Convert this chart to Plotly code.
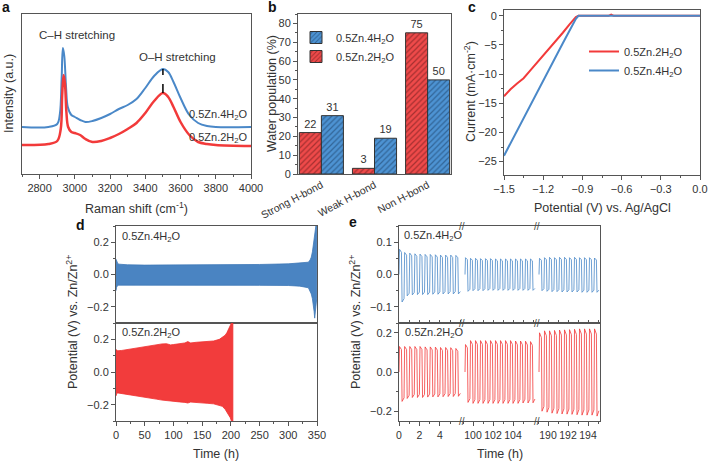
import plotly.graph_objects as go

W, H = 709, 463
def fx(p): return p / W
def fy(p): return 1 - p / H

FONT = "Arial, 'Liberation Sans', sans-serif"
AX = "#555555"
TXT = "#333333"
RED = "#f23a3a"
BLUE = "#4a88c8"

# ---------------- Panel a: Raman ----------------
raman_x_4 = [2700, 2850, 2900, 2915, 2925, 2932, 2940, 2950, 2960, 2980, 3000, 3030, 3060, 3100, 3150,
             3200, 3250, 3300, 3350, 3400, 3450, 3500, 3530, 3560, 3600, 3650, 3700, 3750, 3800, 4000]
raman_y_4 = [47, 47, 50, 60, 95, 126, 118, 87, 67, 59, 57, 54, 52, 53, 56,
             60, 65, 69, 75, 86, 98, 105, 102, 92, 76, 59, 51, 48, 47, 47]
raman_x_2 = [2700, 2850, 2900, 2920, 2928, 2936, 2944, 2952, 2962, 2980, 3000, 3030, 3060, 3100, 3150,
             3200, 3250, 3300, 3350, 3400, 3450, 3500, 3530, 3560, 3600, 3650, 3700, 3750, 3800, 4000]
raman_y_2 = [29, 30, 33, 45, 78, 99, 90, 62, 47, 42, 41, 39, 35, 32, 33,
             36, 40, 45, 51, 61, 73, 81, 77, 67, 52, 39, 32, 30, 29, 28]
oh_peak_x = 3500

# ---------------- Panel b: water population ----------------
categories = ["Strong H-bond", "Weak H-bond", "Non H-bond"]
pop_2 = [22, 3, 75]
pop_4 = [31, 19, 50]

# ---------------- Panel c: LSV ----------------
lsv_v_2 = [-1.5, -1.45, -1.4, -1.35, -1.3, -1.25, -1.2, -1.15, -1.1, -1.05, -1.0, -0.97, -0.95,
           -0.93, -0.9, -0.7, -0.68, -0.66, -0.5, -0.3, 0.0]
lsv_i_2 = [-13.8, -12.6, -11.6, -10.7, -9.4, -8.1, -6.9, -5.6, -4.3, -2.9, -1.5, -0.7, -0.2,
           0, 0, 0, 0.2, 0, 0, 0, 0]
lsv_v_4 = [-1.5, -1.35, -1.2, -1.05, -0.95, -0.93, -0.9, -0.5, 0.0]
lsv_i_4 = [-24.0, -17.5, -11.1, -4.7, -0.5, 0, 0, 0, 0]

# ---------------- Panel d: long-term cycling envelopes ----------------
d4_t = [0, 1, 3, 5, 20, 50, 100, 150, 200, 250, 300, 320, 335, 338, 340, 342, 343, 345, 346, 347, 348, 349.5]
d4_up = [0.095, 0.08, 0.068, 0.064, 0.06, 0.058, 0.058, 0.058, 0.06, 0.062, 0.066, 0.07, 0.076, 0.09, 0.107,
         0.14, 0.17, 0.23, 0.27, 0.3, 0.3, 0.3]
d4_lo = [-0.1, -0.08, -0.066, -0.062, -0.063, -0.064, -0.065, -0.066, -0.066, -0.067, -0.068, -0.072, -0.082,
         -0.1, -0.12, -0.15, -0.17, -0.23, -0.27, -0.27, -0.2, -0.15]

d2_t = [0, 1, 3, 10, 20, 30, 40, 50, 60, 70, 80, 88, 95, 100, 110, 120, 125, 130, 140, 150, 160, 170,
        180, 185, 190, 193, 196, 199, 201, 202.5, 203.5]
d2_up = [0.137, 0.133, 0.13, 0.132, 0.138, 0.143, 0.148, 0.153, 0.158, 0.165, 0.172, 0.173, 0.166, 0.168,
         0.174, 0.178, 0.186, 0.178, 0.182, 0.185, 0.188, 0.19, 0.2, 0.21, 0.225, 0.24, 0.26, 0.28, 0.3, 0.3, 0.3]
d2_lo = [-0.147, -0.135, -0.128, -0.132, -0.137, -0.142, -0.148, -0.153, -0.16, -0.166, -0.172, -0.175,
         -0.178, -0.18, -0.183, -0.186, -0.19, -0.184, -0.188, -0.19, -0.192, -0.195, -0.205, -0.21, -0.228,
         -0.245, -0.26, -0.28, -0.3, -0.3, -0.3]

# ---------------- Panel e: zoomed cycles (per-cycle peak values) ----------------
e_seg_ranges = [[0, 6.15], [98.9, 106.4], [188.9, 195.2]]
e_seg_start = [0.0, 99.2, 189.1]
e_seg_ticks = [[0, 2, 4], [100, 102, 104], [190, 192, 194]]
e_seg_minor = [[1, 3, 5], [99, 101, 103, 105], [189, 191, 193, 195]]
e_period = 0.5

e4_high = [
    [0.078, 0.068, 0.066, 0.064, 0.063, 0.062, 0.062, 0.061, 0.060, 0.060, 0.060, 0.059],
    [0.052, 0.050, 0.050, 0.049, 0.049, 0.049, 0.048, 0.048, 0.048, 0.048, 0.048, 0.048, 0.048, 0.048],
    [0.050, 0.052, 0.053, 0.052, 0.053, 0.053, 0.052, 0.053, 0.052, 0.052, 0.052, 0.051],
]
e4_low = [
    [-0.085, -0.066, -0.063, -0.062, -0.062, -0.062, -0.061, -0.061, -0.060, -0.060, -0.060, -0.060],
    [-0.052, -0.050, -0.050, -0.050, -0.049, -0.049, -0.049, -0.049, -0.049, -0.049, -0.049, -0.049, -0.049, -0.049],
    [-0.050, -0.052, -0.053, -0.053, -0.054, -0.054, -0.054, -0.054, -0.055, -0.055, -0.055, -0.055],
]
e2_high = [
    [0.130, 0.130, 0.130, 0.130, 0.130, 0.128, 0.128, 0.127, 0.125, 0.125, 0.124, 0.120],
    [0.140, 0.160, 0.160, 0.160, 0.160, 0.160, 0.160, 0.160, 0.160, 0.160, 0.158, 0.158, 0.157, 0.155],
    [0.200, 0.210, 0.210, 0.212, 0.214, 0.215, 0.216, 0.218, 0.220, 0.220, 0.220, 0.220],
]
e2_low = [
    [-0.150, -0.135, -0.130, -0.130, -0.130, -0.128, -0.127, -0.127, -0.126, -0.125, -0.125, -0.124],
    [-0.155, -0.160, -0.160, -0.160, -0.160, -0.160, -0.160, -0.160, -0.160, -0.160, -0.160, -0.158, -0.158, -0.157],
    [-0.200, -0.205, -0.210, -0.212, -0.214, -0.215, -0.216, -0.218, -0.220, -0.220, -0.220, -0.225],
]

LBL4 = "0.5Zn.4H<sub>2</sub>O"
LBL2 = "0.5Zn.2H<sub>2</sub>O"

fig = go.Figure()

# Panel a traces
fig.add_trace(go.Scatter(x=raman_x_4, y=raman_y_4, mode="lines", line=dict(color=BLUE, width=2, shape="spline"),
                         showlegend=False, xaxis="x", yaxis="y"))
fig.add_trace(go.Scatter(x=raman_x_2, y=raman_y_2, mode="lines", line=dict(color=RED, width=2.5, shape="spline"),
                         showlegend=False, xaxis="x", yaxis="y"))
fig.add_trace(go.Scatter(x=[oh_peak_x, oh_peak_x],
                         y=[raman_y_2[raman_x_2.index(oh_peak_x)], raman_y_4[raman_x_4.index(oh_peak_x)]],
                         mode="lines", line=dict(color="black", width=1.5, dash="dash"),
                         showlegend=False, xaxis="x", yaxis="y"))

# Panel b traces
fig.add_trace(go.Bar(x=categories, y=pop_2, name=LBL2, text=pop_2, textposition="outside",
                     textfont=dict(size=11, color=TXT), cliponaxis=False,
                     marker=dict(color="#ef4a4a", line=dict(color="#333", width=1),
                                 pattern=dict(shape="/", fgcolor="#5a1515", size=4, solidity=0.3)),
                     xaxis="x2", yaxis="y2", legend="legend"))
fig.add_trace(go.Bar(x=categories, y=pop_4, name=LBL4, text=pop_4, textposition="outside",
                     textfont=dict(size=11, color=TXT), cliponaxis=False,
                     marker=dict(color="#4d93d3", line=dict(color="#333", width=1),
                                 pattern=dict(shape="/", fgcolor="#17375c", size=4, solidity=0.3)),
                     xaxis="x2", yaxis="y2", legend="legend"))

# Panel c traces
fig.add_trace(go.Scatter(x=lsv_v_2, y=lsv_i_2, mode="lines", name=LBL2, line=dict(color=RED, width=2),
                         xaxis="x3", yaxis="y3", legend="legend2"))
fig.add_trace(go.Scatter(x=lsv_v_4, y=lsv_i_4, mode="lines", name=LBL4, line=dict(color=BLUE, width=2),
                         xaxis="x3", yaxis="y3", legend="legend2"))

# Panel d traces (filled envelopes)
fig.add_trace(go.Scatter(x=d4_t + d4_t[::-1], y=d4_up + d4_lo[::-1], mode="lines", fill="toself",
                         fillcolor="#4a84c2", line=dict(color="#3f78b8", width=0.8),
                         showlegend=False, xaxis="x4", yaxis="y4"))
fig.add_trace(go.Scatter(x=d2_t + d2_t[::-1], y=d2_up + d2_lo[::-1], mode="lines", fill="toself",
                         fillcolor="#f23c3c", line=dict(color="#f03030", width=0.8),
                         showlegend=False, xaxis="x5", yaxis="y5"))

# Panel e traces
def wave(t0, highs, lows):
    xs, ys = [], []
    for i, (h, l) in enumerate(zip(highs, lows)):
        t = t0 + i * e_period
        xs += [t, t + 0.05, t + 0.24, t + 0.30, t + 0.49]
        ys += [0.0, h, 0.88 * h, l, 0.88 * l]
    return xs, ys

for k in range(3):
    xs, ys = wave(e_seg_start[k], e4_high[k], e4_low[k])
    fig.add_trace(go.Scatter(x=xs, y=ys, mode="lines", line=dict(color="rgba(74,136,200,0.8)", width=1),
                             showlegend=False, xaxis=f"x{6+k}", yaxis=f"y{6+k}"))
    xs, ys = wave(e_seg_start[k], e2_high[k], e2_low[k])
    fig.add_trace(go.Scatter(x=xs, y=ys, mode="lines", line=dict(color="rgba(242,58,58,0.8)", width=1),
                             showlegend=False, xaxis=f"x{9+k}", yaxis=f"y{9+k}"))

# ---------------- Axes ----------------
def ax(**kw):
    base = dict(showline=True, linecolor=AX, linewidth=1, mirror=True, ticks="outside", ticklen=4,
                tickcolor=AX, tickfont=dict(size=11, color=TXT, family=FONT), showgrid=False, zeroline=False,
                automargin=False)
    base.update(kw)
    return base

def minor(dt=None, vals=None, ticks="outside"):
    m = dict(ticks=ticks, ticklen=2, tickcolor=AX, showgrid=False)
    if dt is not None:
        m["dtick"] = dt
    if vals is not None:
        m["tickmode"] = "array"
        m["tickvals"] = vals
    return m

lay = dict(
    xaxis=ax(domain=[fx(22), fx(251)], range=[2700, 4000], dtick=200, minor=minor(100), anchor="y"),
    yaxis=ax(domain=[fy(174), fy(14)], range=[0, 160], showticklabels=False, ticks="", anchor="x"),
    xaxis2=ax(domain=[fx(298), fx(451)], type="category", range=[-0.44, 2.44], tickangle=-28, ticks="",
              tickfont=dict(size=10.5, color=TXT, family=FONT), anchor="y2"),
    yaxis2=ax(domain=[fy(174), fy(14)], range=[0, 85], dtick=10, minor=minor(5), anchor="x2"),
    xaxis3=ax(domain=[fx(504), fx(700)], range=[-1.5, 0], dtick=0.3, tickformat=".1f", minor=minor(0.15),
              anchor="y3"),
    yaxis3=ax(domain=[fy(175), fy(10)], range=[-27.3, 1.0], dtick=5, minor=minor(2.5), anchor="x3"),
    xaxis4=ax(domain=[fx(116), fx(317)], range=[0, 350], showticklabels=False, ticks="", anchor="y4"),
    yaxis4=ax(domain=[fy(323), fy(226)], range=[-0.3, 0.3], dtick=0.2, tickformat=".1f", minor=minor(0.1),
              anchor="x4"),
    xaxis5=ax(domain=[fx(116), fx(317)], range=[0, 350], dtick=50, minor=minor(25), anchor="y5"),
    yaxis5=ax(domain=[fy(421), fy(323)], range=[-0.3, 0.3], dtick=0.2, tickformat=".1f", minor=minor(0.1),
              anchor="x5"),
)

seg_px = [(399, 462), (462, 537), (537, 600)]
for k in range(3):
    dom = [fx(seg_px[k][0]), fx(seg_px[k][1])]
    lay[f"xaxis{6+k}"] = ax(domain=dom, range=e_seg_ranges[k], showticklabels=False, ticks="inside", ticklen=3,
                            tickmode="array", tickvals=list(range(int(e_seg_ranges[k][0]) + 1,
                                                                  int(e_seg_ranges[k][1]) + 1)),
                            anchor=f"y{6+k}")
    lay[f"xaxis{9+k}"] = ax(domain=dom, range=e_seg_ranges[k], tickmode="array", tickvals=e_seg_ticks[k],
                            tickangle=0, tickfont=dict(size=10.5, color=TXT, family=FONT),
                            minor=minor(vals=e_seg_minor[k]), anchor=f"y{9+k}")
    ycfg_u = dict(domain=[fy(323), fy(226)], range=[-0.15, 0.15], dtick=0.1, tickformat=".1f",
                  anchor=f"x{6+k}")
    ycfg_l = dict(domain=[fy(421), fy(323)], range=[-0.25, 0.25], dtick=0.2, tickformat=".1f",
                  anchor=f"x{9+k}")
    if k == 0:
        lay[f"yaxis{6+k}"] = ax(mirror=False, minor=minor(0.05), **ycfg_u)
        lay[f"yaxis{9+k}"] = ax(mirror=False, minor=minor(0.1), **ycfg_l)
    elif k == 1:
        lay[f"yaxis{6+k}"] = ax(mirror=False, showline=False, ticks="", showticklabels=False, **ycfg_u)
        lay[f"yaxis{9+k}"] = ax(mirror=False, showline=False, ticks="", showticklabels=False, **ycfg_l)
    else:
        lay[f"yaxis{6+k}"] = ax(mirror=False, side="right", ticks="", showticklabels=False, **ycfg_u)
        lay[f"yaxis{9+k}"] = ax(mirror=False, side="right", ticks="", showticklabels=False, **ycfg_l)

# ---------------- Annotations ----------------
ann = []
def text(x, y, s, size=11, xanchor="center", yanchor="middle", angle=0, bold=False, color=TXT):
    ann.append(dict(x=fx(x), y=fy(y), xref="paper", yref="paper", text=(f"<b>{s}</b>" if bold else s),
                    showarrow=False, xanchor=xanchor, yanchor=yanchor, textangle=angle,
                    font=dict(size=size, color=color, family=FONT)))

for s, x, y in [("a", 6, 7), ("b", 272, 7), ("c", 472, 7), ("d", 80, 225), ("e", 353, 222)]:
    text(x, y, s, size=14, bold=True, color="#111")

text(77, 35, "C–H stretching", size=11.5)
text(177, 57, "O–H stretching", size=11.5)
text(250, 115, LBL4, size=11, xanchor="right")
text(250, 138, LBL2, size=11, xanchor="right")
text(136, 208, "Raman shift (cm<sup>-1</sup>)", size=12.5)
text(9, 94, "Intensity (a.u.)", size=12.5, angle=-90)
text(272, 94, "Water population (%)", size=12.5, angle=-90)
text(470, 92, "Current (mA·cm<sup>-2</sup>)", size=12.5, angle=-90)
text(602, 208, "Potential (V) vs. Ag/AgCl", size=12.5)

text(120, 237, LBL4, size=11, xanchor="left")
text(120, 333, LBL2, size=11, xanchor="left")
text(72, 322, "Potential (V) vs. Zn/Zn<sup>2+</sup>", size=12.5, angle=-90)
text(216, 454, "Time (h)", size=12.5)

text(402, 236, LBL4, size=11, xanchor="left")
text(403, 333, LBL2, size=11, xanchor="left")
text(355, 322, "Potential (V) vs. Zn/Zn<sup>2+</sup>", size=12.5, angle=-90)
text(500, 454, "Time (h)", size=12.5)

for bx in (462, 537):
    for by in (226, 323, 421):
        text(bx, by, "//", size=10, color="#444")

fig.update_layout(
    **lay,
    width=W, height=H, margin=dict(l=0, r=0, t=0, b=0, pad=0, autoexpand=False),
    paper_bgcolor="white", plot_bgcolor="white",
    font=dict(family=FONT, size=11, color=TXT),
    barmode="group", bargap=0.17, bargroupgap=0,
    annotations=ann,
    legend=dict(x=fx(296), y=fy(23), xanchor="left", yanchor="top", traceorder="reversed",
                font=dict(size=11, color=TXT, family=FONT), bgcolor="rgba(0,0,0,0)",
                itemwidth=30, tracegroupgap=2),
    legend2=dict(x=fx(584), y=fy(37), xanchor="left", yanchor="top",
                 font=dict(size=11, color=TXT, family=FONT), bgcolor="rgba(0,0,0,0)", itemwidth=30),
)

fig.write_html("out.html")
